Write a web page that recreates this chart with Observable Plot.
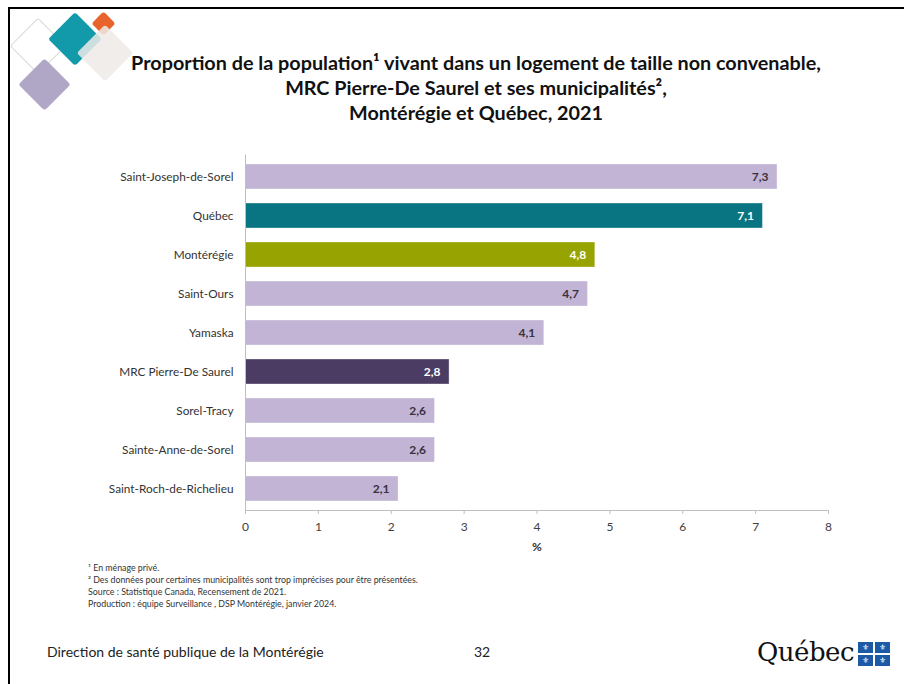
<!DOCTYPE html>
<html><head><meta charset="utf-8">
<script src="https://cdn.jsdelivr.net/npm/d3@7"></script>
<script src="https://cdn.jsdelivr.net/npm/@observablehq/plot@0.6"></script>
<style>
html,body{margin:0;padding:0;background:#fff;}
#page{position:relative;width:904px;height:684px;overflow:hidden;font-family:Lato,"Open Sans",sans-serif;color:#222;}
#border{position:absolute;left:8px;top:7px;width:910px;height:700px;border-top:2px solid #000;border-left:2px solid #000;box-shadow:-1px -1px 0 #888 inset;}
.dia{position:absolute;transform:rotate(45deg);border-radius:3px;}
#title{position:absolute;left:0;width:952px;top:50px;text-align:center;font-weight:bold;font-size:19.8px;line-height:25px;color:#111;}
#chart{position:absolute;left:0;top:140px;}
#notes{position:absolute;left:88px;top:562px;font-size:8.8px;line-height:12px;color:#333;}
#footer{position:absolute;left:47px;top:643px;font-size:14px;color:#222;}
#page32{position:absolute;left:474px;top:643px;font-size:14px;color:#222;}
#logo{position:absolute;left:757px;top:637px;display:flex;align-items:center;}
#logo .word{font-family:"DejaVu Serif","Liberation Serif",serif;font-size:26px;color:#111;letter-spacing:-0.5px;}
#flag{display:grid;grid-template-columns:15px 15px;grid-template-rows:11px 11px;gap:2px;margin-left:4px;margin-top:4px;}
#flag div{background:#1c5aa6;color:#fff;font-size:8px;line-height:11px;text-align:center;font-family:"DejaVu Sans";}
</style></head>
<body><div id="page">
<div id="border"></div>
<div class="dia" style="left:18px;top:26px;width:38px;height:38px;border:1.5px solid #d5dcd3;background:transparent;"></div>
<div class="dia" style="left:26px;top:66px;width:37px;height:37px;background:#b0a6c6;"></div>
<div class="dia" style="left:56px;top:20px;width:38px;height:38px;background:#129aaa;"></div>
<div class="dia" style="left:95px;top:15px;width:17px;height:17px;background:#e8642c;"></div>
<div class="dia" style="left:85px;top:33px;width:40px;height:40px;background:rgba(238,234,232,0.85);"></div>
<div id="title">Proportion de la population¹ vivant dans un logement de taille non convenable,<br>MRC Pierre-De Saurel et ses municipalités²,<br>Montérégie et Québec, 2021</div>
<div id="chart"></div>
<div id="notes">¹ En ménage privé.<br>² Des données pour certaines municipalités sont trop imprécises pour être présentées.<br>Source : Statistique Canada, Recensement de 2021.<br>Production : équipe Surveillance , DSP Montérégie, janvier 2024.</div>
<div id="footer">Direction de santé publique de la Montérégie</div>
<div id="page32">32</div>
<div id="logo"><span class="word">Québec</span><div id="flag"><div>⚜</div><div>⚜</div><div>⚜</div><div>⚜</div></div></div>
</div>
<script>
const categories = ["Saint-Joseph-de-Sorel","Québec","Montérégie","Saint-Ours","Yamaska","MRC Pierre-De Saurel","Sorel-Tracy","Sainte-Anne-de-Sorel","Saint-Roch-de-Richelieu"];
const values = [7.3,7.1,4.8,4.7,4.1,2.8,2.6,2.6,2.1];
const groups = ["Municipalité","Québec","Montérégie","Municipalité","Municipalité","MRC","Municipalité","Municipalité","Municipalité"];
const groupNames = ["Municipalité","Québec","Montérégie","MRC"];
const groupColors = ["#c2b4d4","#0a7582","#97a300","#4b3c63"];
const labelColors = ["#3a3040","#ffffff","#ffffff","#ffffff"];
const xTicks = [0,1,2,3,4,5,6,7,8];

const data = categories.map((c,i)=>({name:c, value:values[i], group:groups[i]}));
const lab = new Map(groupNames.map((g,i)=>[g,labelColors[i]]));

const chart = Plot.plot({
  width: 904, height: 420,
  marginLeft: 245, marginRight: 76, marginTop: 14.5, marginBottom: 50,
  style: {fontFamily: "Lato, 'Open Sans', sans-serif", fontSize: "12px", color: "#404040", background: "transparent"},
  x: {domain:[0,8], ticks: xTicks, label: "%", labelAnchor: "center", labelArrow: "none"},
  y: {domain: categories, paddingInner: 0.36, paddingOuter: 0.18, label: null},
  color: {domain: groupNames, range: groupColors},
  marks: [
    Plot.barX(data, {x: "value", y: "name", fill: "group", stroke: "#ffffff", strokeOpacity: 0.35}),
    Plot.text(data, {x: "value", y: "name", text: d => d.value.toFixed(1).replace(".", ","), dx: -9, textAnchor: "end", fontWeight: "bold", fontSize: 12, fill: d => lab.get(d.group)}),
    Plot.ruleX([0], {stroke: "#bfbfbf"}),
    Plot.frame({anchor: "bottom", stroke: "#bfbfbf"}),
    Plot.axisX({ticks: xTicks, tickSize: 4, stroke: "#bfbfbf", fill: "#404040", tickPadding: 8, fontSize: 12, tickFormat: d => String(d), label: null}),
    Plot.axisX({ticks: [], tickSize: 0, label: "%", labelAnchor: "center", labelArrow: "none", labelOffset: 40, fontWeight: "bold", fill: "#333"}),
    Plot.axisY({tickSize: 0, tickPadding: 12, fill: "#333", fontSize: 11.8, label: null})
  ]
});
document.getElementById("chart").appendChild(chart);
</script>
</body></html>
